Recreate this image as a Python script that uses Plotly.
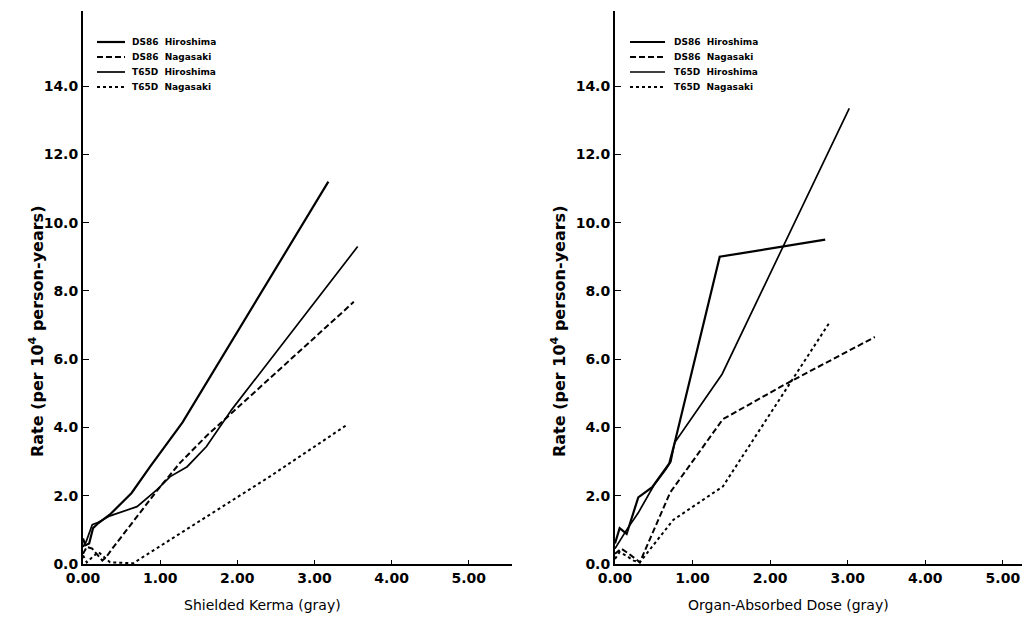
import plotly.graph_objects as go

# ---------------- Data ----------------
# Left panel: Shielded Kerma (gray)
k_ds86_hiro_x = [0.0, 0.03, 0.08, 0.13, 0.2, 0.35, 0.63, 0.87, 1.29, 3.18]
k_ds86_hiro_y = [0.75, 0.55, 0.6, 1.05, 1.2, 1.45, 2.08, 2.85, 4.15, 11.2]

k_ds86_naga_x = [0.0, 0.05, 0.12, 0.18, 0.25, 0.3, 0.38, 0.97, 1.26, 1.6, 3.51]
k_ds86_naga_y = [0.3, 0.5, 0.45, 0.3, 0.1, 0.2, 0.45, 2.18, 2.97, 3.75, 7.68]

k_t65d_hiro_x = [0.0, 0.04, 0.12, 0.2, 0.35, 0.7, 0.96, 1.13, 1.35, 1.6, 1.93, 3.56]
k_t65d_hiro_y = [0.5, 0.65, 1.15, 1.22, 1.41, 1.68, 2.18, 2.56, 2.85, 3.44, 4.53, 9.3]

k_t65d_naga_x = [0.0, 0.05, 0.12, 0.2, 0.35, 0.65, 0.76, 2.42, 3.43]
k_t65d_naga_y = [0.25, 0.05, 0.2, 0.35, 0.05, 0.02, 0.18, 2.56, 4.09]

# Right panel: Organ-Absorbed Dose (gray)
d_ds86_hiro_x = [0.0, 0.06, 0.15, 0.3, 0.48, 0.62, 0.7, 0.77, 1.35, 2.71]
d_ds86_hiro_y = [0.6, 1.05, 0.88, 1.95, 2.25, 2.7, 2.95, 3.56, 9.0, 9.5]

d_ds86_naga_x = [0.0, 0.08, 0.18, 0.32, 0.71, 1.39, 2.19, 3.35]
d_ds86_naga_y = [0.3, 0.45, 0.3, 0.05, 2.09, 4.24, 5.26, 6.65]

d_t65d_hiro_x = [0.0, 0.15, 0.3, 0.5, 0.65, 0.72, 0.77, 1.38, 3.02]
d_t65d_hiro_y = [0.45, 1.0, 1.5, 2.3, 2.75, 3.0, 3.56, 5.56, 13.35]

d_t65d_naga_x = [0.0, 0.06, 0.14, 0.24, 0.32, 0.75, 1.39, 2.19, 2.77]
d_t65d_naga_y = [0.15, 0.35, 0.25, 0.1, 0.05, 1.29, 2.27, 5.06, 7.09]

series_names = ["DS86  Hiroshima", "DS86  Nagasaki", "T65D  Hiroshima", "T65D  Nagasaki"]
x_tick_vals = [0, 1, 2, 3, 4, 5]
x_tick_text = ["0.00", "1.00", "2.00", "3.00", "4.00", "5.00"]
y_tick_vals = [0, 2, 4, 6, 8, 10, 12, 14]
y_tick_text = ["0.0", "2.0", "4.0", "6.0", "8.0", "10.0", "12.0", "14.0"]
y_title = "Rate (per 10<sup>4</sup> person-years)"
x_titles = ["Shielded Kerma (gray)", "Organ-Absorbed Dose (gray)"]

# ---------------- Styles ----------------
styles = [
    dict(color="black", width=2.2, dash="solid"),
    dict(color="black", width=2.0, dash="6px,3px"),
    dict(color="black", width=1.7, dash="solid"),
    dict(color="black", width=2.0, dash="3px,3px"),
]

FONT = "DejaVu Sans"
OFF = 8                    # page body margin offset
W, H = 1030 - OFF, 621 - OFF


def px(x):
    return (x - OFF) / W


def py(y):
    return 1 - (y - OFF) / H


fig = go.Figure()

left = [(k_ds86_hiro_x, k_ds86_hiro_y), (k_ds86_naga_x, k_ds86_naga_y),
        (k_t65d_hiro_x, k_t65d_hiro_y), (k_t65d_naga_x, k_t65d_naga_y)]
right = [(d_ds86_hiro_x, d_ds86_hiro_y), (d_ds86_naga_x, d_ds86_naga_y),
         (d_t65d_hiro_x, d_t65d_hiro_y), (d_t65d_naga_x, d_t65d_naga_y)]

for (xs, ys), name, st in zip(left, series_names, styles):
    fig.add_trace(go.Scatter(x=xs, y=ys, mode="lines", name=name, line=st,
                             xaxis="x", yaxis="y", showlegend=False))
for (xs, ys), name, st in zip(right, series_names, styles):
    fig.add_trace(go.Scatter(x=xs, y=ys, mode="lines", name=name, line=st,
                             xaxis="x2", yaxis="y2", showlegend=False))

tickfont = dict(family=FONT, size=14, color="black", weight="bold")
common_x = dict(range=[0, 5.56], tickvals=x_tick_vals, ticktext=x_tick_text,
                ticks="inside", ticklen=4, tickwidth=1, tickcolor="black",
                showline=True, linecolor="black", linewidth=2, automargin=False,
                showgrid=False, zeroline=False, tickfont=tickfont)
common_y = dict(range=[0, 16.2], tickvals=y_tick_vals, ticktext=y_tick_text,
                ticks="inside", ticklen=6, tickwidth=1, tickcolor="black",
                showline=True, linecolor="black", linewidth=2, automargin=False,
                showgrid=False, zeroline=False, tickfont=tickfont)

fig.update_layout(
    width=W, height=H,
    margin=dict(l=0, r=0, t=0, b=0),
    paper_bgcolor="white", plot_bgcolor="white",
    showlegend=False,
    xaxis=dict(common_x, domain=[px(83), px(512)], anchor="y"),
    yaxis=dict(common_y, domain=[py(564), py(11)], anchor="x"),
    xaxis2=dict(common_x, range=[0, 5.35], domain=[px(615), 1.0], anchor="y2"),
    yaxis2=dict(common_y, domain=[py(564), py(11)], anchor="x2"),
)

# Axis titles placed as annotations (paper coords)
ann = []
for cx, txt in [(262, x_titles[0]), (788, x_titles[1])]:
    ann.append(dict(x=px(cx), y=py(605), xref="paper", yref="paper", text=txt,
                    showarrow=False, xanchor="center", yanchor="middle",
                    font=dict(family=FONT, size=14, color="black")))
for cx in [36, 558]:
    ann.append(dict(x=px(cx), y=py(332), xref="paper", yref="paper", text=y_title,
                    textangle=-90, showarrow=False, xanchor="center", yanchor="middle",
                    font=dict(family=FONT, size=16, color="black", weight="bold")))

# Manual legends (keys + labels)
shapes = []
legend_rows = [42, 57, 72, 87]
for (lx0, lx1, tx) in [(97, 125, 130), (630, 665, 672)]:
    for row_y, name, st in zip(legend_rows, series_names, styles):
        shapes.append(dict(type="line", xref="paper", yref="paper",
                           x0=px(lx0), x1=px(lx1), y0=py(row_y), y1=py(row_y),
                           line=dict(color="black", width=st["width"], dash=st["dash"])))
        ann.append(dict(x=px(tx), y=py(row_y), xref="paper", yref="paper", text=name,
                        showarrow=False, xanchor="left", yanchor="middle",
                        font=dict(family=FONT, size=9, color="black", weight="bold")))

fig.update_layout(annotations=ann, shapes=shapes)

fig.write_html("out.html")
